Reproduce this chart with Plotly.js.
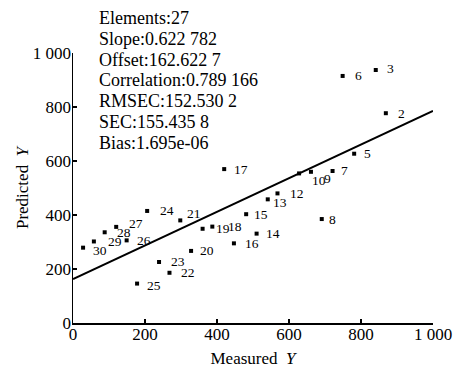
<!DOCTYPE html>
<html><head><meta charset="utf-8">
<script src="https://cdn.plot.ly/plotly-3.0.1.min.js"></script>
<style>html,body{margin:0;padding:0;background:#fff}#c{width:457px;height:370px}</style>
</head><body><div id="c"></div>
<script>
const ids = ["2","3","5","6","7","8","9","10","12","13","14","15","16","17","18","19","20","21","22","23","24","25","26","27","28","29","30"];
const measured = [869,841,781,749,721,691,661,628,568,541,510,481,447,420,387,360,328,298,268,239,206,178,149,120,88,58,28];
const predicted = [777,937,627,915,563,385,560,554,480,458,331,403,295,570,357,349,267,380,186,226,415,146,306,356,336,302,279];
const statLines = ["Elements:27","Slope:0.622 782","Offset:162.622 7","Correlation:0.789 166","RMSEC:152.530 2","SEC:155.435 8","Bias:1.695e-06"];
const slope = 0.622782, offset = 162.6227;
const tickVals = [0,200,400,600,800,1000];
const tickText = ["0","200","400","600","800","1 000"];

const FONT = "Liberation Serif, Times New Roman, serif";
const lineX = [0,1000];
const lineY = lineX.map(v => offset + slope*v);

// label offsets in px (style only): [xshift to text start, yshift]
const shifts = {"2":[11,0],"3":[10,2],"5":[9,0],"6":[11,0],"7":[7,0],"8":[6,0],"9":[12,-7],"10":[12,-7],
  "12":[12,0],"13":[4,-3],"14":[8,0],"15":[7,0],"16":[10,0],"17":[9,0],"18":[15,0],"19":[12,0],"20":[8,0],
  "21":[6,7],"22":[11,0],"23":[11,0],"24":[12,0],"25":[9,-2],"26":[9,0],"27":[12,3],"28":[11,0],"29":[13,0],"30":[9,-3]};

const annotations = ids.map((id,i)=>{
  const s = shifts[id] || [9,0];
  return {x:measured[i], y:predicted[i], xref:'x', yref:'y', text:id, showarrow:false,
    xanchor:'left', yanchor:'middle', xshift:s[0]-1, yshift:s[1], font:{family:FONT,size:13.5,color:'#000'}};
});
statLines.forEach((t,i)=>{
  annotations.push({x:(100-73)/360.6, y:(323-(18+20.8*i))/270, xref:'paper', yref:'paper', text:t, showarrow:false,
    xanchor:'left', yanchor:'middle', xshift:-3, font:{family:FONT,size:18,color:'#000'}});
});

const axBase = {range:[0,1000], tickvals:tickVals, showgrid:false, zeroline:false};

Plotly.newPlot('c',[
  {x:lineX, y:lineY, mode:'lines', line:{color:'#000',width:2}, hoverinfo:'skip', xaxis:'x2', yaxis:'y2'},
  {x:measured, y:predicted, mode:'markers', marker:{symbol:'square',size:4,color:'#000'}}
],{
  width:457, height:370, showlegend:false,
  paper_bgcolor:'#fff', plot_bgcolor:'#fff',
  margin:{l:73,r:24,t:53,b:47},
  font:{family:FONT,size:17,color:'#000'},
  xaxis:Object.assign({}, axBase, {ticktext:tickText, ticks:'outside', ticklen:0,
    showline:true, linecolor:'#000', linewidth:1.5, ticklabelstandoff:-5,
    tickfont:{family:FONT,size:17}, title:{text:'Measured  <i>Y</i>', font:{family:FONT,size:17}, standoff:9}}),
  yaxis:Object.assign({}, axBase, {ticktext:tickText, ticks:'outside', ticklen:0,
    showline:true, linecolor:'#000', linewidth:1.5, ticklabelstandoff:-3,
    tickfont:{family:FONT,size:17}, title:{text:'Predicted  <i>Y</i>', font:{family:FONT,size:17}, standoff:0}}),
  xaxis2:Object.assign({}, axBase, {overlaying:'x', anchor:'y2', side:'bottom', ticks:'inside', ticklen:4, tickwidth:1.5,
    tickcolor:'#000', showticklabels:false, showline:false}),
  yaxis2:Object.assign({}, axBase, {overlaying:'y', anchor:'x2', side:'left', ticks:'inside', ticklen:4, tickwidth:1.5,
    tickcolor:'#000', showticklabels:false, showline:false}),
  annotations:annotations
},{displayModeBar:false, staticPlot:true});
</script></body></html>
